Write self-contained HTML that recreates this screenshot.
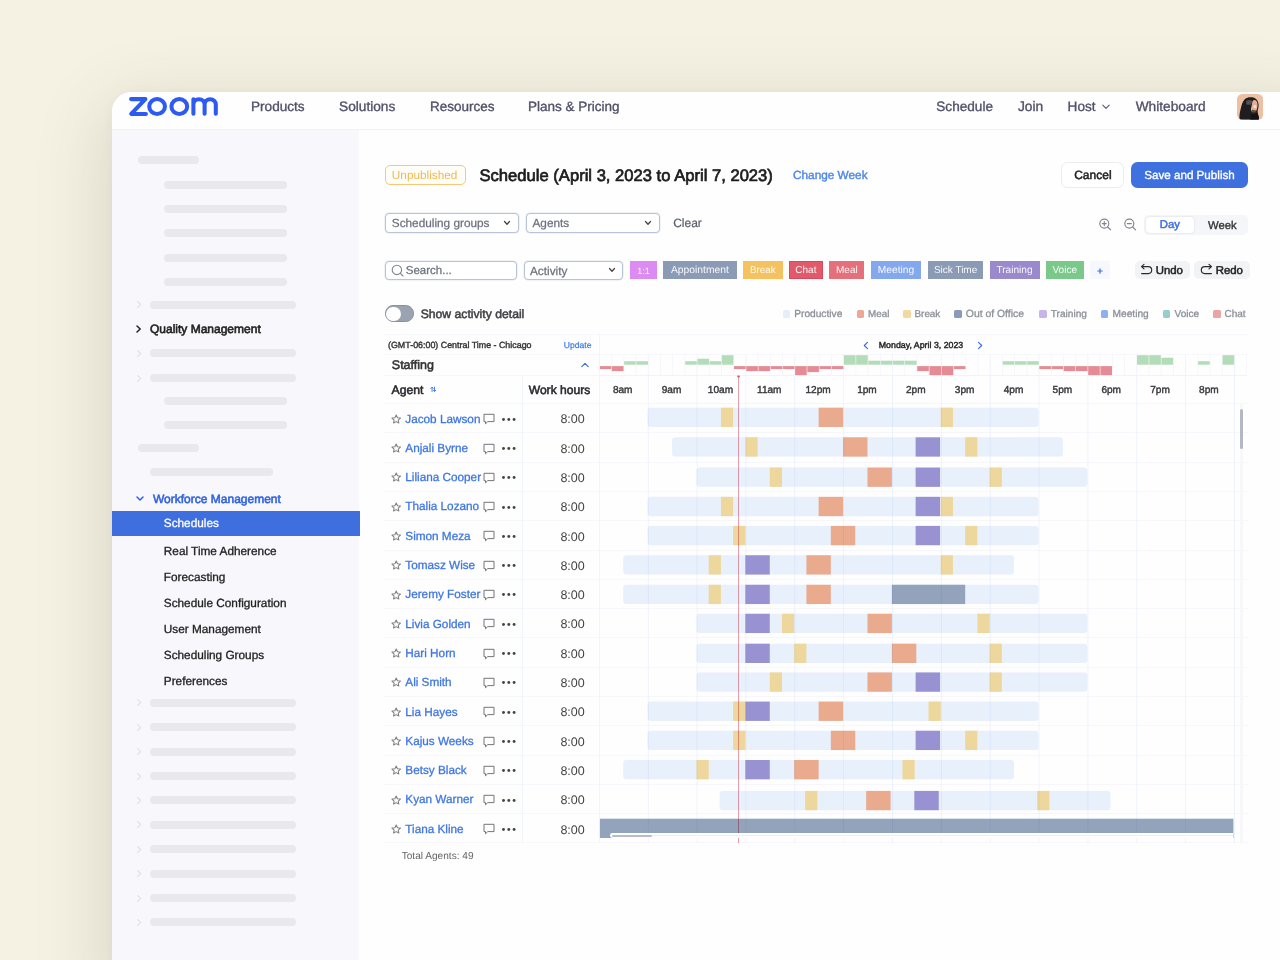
<!DOCTYPE html>
<html><head><meta charset="utf-8"><title>Schedule</title><style>
*{box-sizing:border-box;margin:0;padding:0}
html,body{width:1280px;height:960px;overflow:hidden}
body{background:#f5f2e3;font-family:"Liberation Sans",sans-serif;position:relative}
.b,.t,svg.i{position:absolute}
.t{white-space:nowrap;text-rendering:geometricPrecision}
</style></head><body>
<div class="b" style="left:112.00px;top:92.00px;width:1200.00px;height:900.00px;background:#fefefe;border-radius:20px 0 0 0;box-shadow:0 20px 70px 8px rgba(70,68,60,.15),0 2px 12px rgba(70,68,60,.04);"></div>
<div class="b" style="left:112.00px;top:129.50px;width:247.00px;height:840.00px;background:#f7f7fc;"></div>
<div class="b" style="left:112.00px;top:92.00px;width:1200.00px;height:37.50px;background:#fefefe;border-radius:20px 0 0 0;border-bottom:1px solid #f0f1f6;"></div>
<svg class="i" style="left:126px;top:94px" width="96" height="26" viewBox="126 94 96 26" fill="none" stroke="#2d5af1" stroke-width="4.05" stroke-linecap="round" stroke-linejoin="round">
<path d="M131.1 99.1H145.4L131.2 113.9H145.9"/>
<ellipse cx="157.1" cy="106.5" rx="7.85" ry="7.45"/>
<ellipse cx="179.3" cy="106.5" rx="7.85" ry="7.45"/>
<path d="M193.4 113.8V99.3M193.4 104.6A5.6 5.4 0 0 1 204.6 104.6V113.8M204.6 104.6A5.6 5.4 0 0 1 215.8 104.6V113.8"/>
</svg>
<div class="t" style="left:251.00px;top:98.90px;height:16px;line-height:16px;font-size:13.6px;color:#50516a;-webkit-text-stroke:0.35px #50516a;">Products</div>
<div class="t" style="left:339.00px;top:98.90px;height:16px;line-height:16px;font-size:13.7px;color:#50516a;-webkit-text-stroke:0.35px #50516a;">Solutions</div>
<div class="t" style="left:430.00px;top:98.90px;height:16px;line-height:16px;font-size:13.5px;color:#50516a;-webkit-text-stroke:0.35px #50516a;">Resources</div>
<div class="t" style="left:528.00px;top:98.90px;height:16px;line-height:16px;font-size:13.5px;color:#50516a;-webkit-text-stroke:0.35px #50516a;">Plans &amp; Pricing</div>
<div class="t" style="left:936.30px;top:98.90px;height:16px;line-height:16px;font-size:13.6px;color:#50516a;-webkit-text-stroke:0.35px #50516a;">Schedule</div>
<div class="t" style="left:1017.90px;top:98.90px;height:16px;line-height:16px;font-size:13.8px;color:#50516a;-webkit-text-stroke:0.35px #50516a;">Join</div>
<div class="t" style="left:1067.60px;top:98.90px;height:16px;line-height:16px;font-size:13.6px;color:#50516a;-webkit-text-stroke:0.35px #50516a;">Host</div>
<div class="t" style="left:1135.70px;top:98.90px;height:16px;line-height:16px;font-size:13.7px;color:#50516a;-webkit-text-stroke:0.35px #50516a;">Whiteboard</div>
<svg class="i" style="left:1101px;top:103px" width="10" height="8" viewBox="0 0 10 8" fill="none" stroke="#5a5a70" stroke-width="1.1" stroke-linecap="round" stroke-linejoin="round"><path d="M1.8 2.2L5 5.4L8.2 2.2"/></svg>
<svg class="i" style="left:1236.9px;top:94px" width="26.2" height="25.8" viewBox="0 0 26.2 25.8">
<defs><clipPath id="av"><rect x="0" y="0" width="26.2" height="25.8" rx="5.5"/></clipPath></defs>
<g clip-path="url(#av)"><rect width="26.2" height="25.8" fill="#edbfa3"/>
<path d="M3.2 25.8C1.8 24 2.6 19 3.8 14.5C4.6 10.8 5.6 7.2 8 5C10 3.2 13.5 2.7 16.5 3.6C19.5 4.5 21.2 7 21.6 10.5C21.9 13.5 20.4 16 20.6 18.5C20.8 21 22.4 22.8 21.8 25.8Z" fill="#1f1d1f"/>
<path d="M16.4 6.2C18.6 5.6 20.3 7.4 20.5 10C20.7 12.6 20.3 15.5 19 17.4C17.8 19 15.8 18.6 14.6 17.4C13.6 16.2 14 14 14.6 12C15.2 10 15 7 16.4 6.2Z" fill="#e3b096"/>
<path d="M17 11.2C18.4 10.6 19.6 11.4 19.4 12.8C19.2 14 17.8 14.4 16.9 13.8C16.2 13.2 16.2 11.7 17 11.2Z" fill="#f4e3da"/>
<path d="M15.2 15.6C16.6 16.4 18.4 16.6 19.6 16L20.6 18.5C19 20 16 20.5 14 19Z" fill="#3a2c2a" opacity=".75"/>
<path d="M9.6 6.8C11.2 6.2 14 6.2 15 6.8C15.2 8.4 14.6 10 13.6 10.8C12 11 10.2 10.8 9.2 10.2C9 9 9.2 7.8 9.6 6.8Z" fill="#5b5a5e" opacity=".85"/>
<path d="M14.2 19.2C16 20.6 18.4 20.2 20.6 18.6C20.8 21 22.4 22.8 21.8 25.8H13.2Z" fill="#151316"/>
</g></svg>
<div class="b" style="left:137.50px;top:156.00px;width:61.50px;height:8.00px;background:#e9e8ed;border-radius:4px;"></div>
<div class="b" style="left:163.80px;top:180.50px;width:123.00px;height:8.00px;background:#e9e8ed;border-radius:4px;"></div>
<div class="b" style="left:163.80px;top:205.00px;width:123.00px;height:8.00px;background:#e9e8ed;border-radius:4px;"></div>
<div class="b" style="left:163.80px;top:229.30px;width:123.00px;height:8.00px;background:#e9e8ed;border-radius:4px;"></div>
<div class="b" style="left:163.80px;top:253.70px;width:123.00px;height:8.00px;background:#e9e8ed;border-radius:4px;"></div>
<div class="b" style="left:163.80px;top:278.20px;width:123.00px;height:8.00px;background:#e9e8ed;border-radius:4px;"></div>
<div class="b" style="left:150.00px;top:300.80px;width:146.30px;height:8.00px;background:#e9e8ed;border-radius:4px;"></div>
<svg class="i" style="left:135px;top:300.30px" width="8" height="9" viewBox="0 0 8 9" fill="none" stroke="#e4e2e8" stroke-width="1.1" stroke-linecap="round" stroke-linejoin="round"><path d="M2.5 1.5L5.8 4.5L2.5 7.5"/></svg>
<div class="b" style="left:150.00px;top:349.30px;width:146.30px;height:8.00px;background:#e9e8ed;border-radius:4px;"></div>
<svg class="i" style="left:135px;top:348.80px" width="8" height="9" viewBox="0 0 8 9" fill="none" stroke="#e4e2e8" stroke-width="1.1" stroke-linecap="round" stroke-linejoin="round"><path d="M2.5 1.5L5.8 4.5L2.5 7.5"/></svg>
<div class="b" style="left:150.00px;top:374.00px;width:146.30px;height:8.00px;background:#e9e8ed;border-radius:4px;"></div>
<svg class="i" style="left:135px;top:373.50px" width="8" height="9" viewBox="0 0 8 9" fill="none" stroke="#e4e2e8" stroke-width="1.1" stroke-linecap="round" stroke-linejoin="round"><path d="M2.5 1.5L5.8 4.5L2.5 7.5"/></svg>
<div class="b" style="left:163.80px;top:396.80px;width:123.00px;height:8.00px;background:#e9e8ed;border-radius:4px;"></div>
<div class="b" style="left:163.80px;top:421.20px;width:123.00px;height:8.00px;background:#e9e8ed;border-radius:4px;"></div>
<div class="b" style="left:137.50px;top:443.60px;width:61.50px;height:8.00px;background:#e9e8ed;border-radius:4px;"></div>
<div class="b" style="left:150.00px;top:468.00px;width:122.50px;height:8.00px;background:#e9e8ed;border-radius:4px;"></div>
<div class="b" style="left:150.00px;top:698.80px;width:146.30px;height:8.00px;background:#e9e8ed;border-radius:4px;"></div>
<svg class="i" style="left:135px;top:698.30px" width="8" height="9" viewBox="0 0 8 9" fill="none" stroke="#e4e2e8" stroke-width="1.1" stroke-linecap="round" stroke-linejoin="round"><path d="M2.5 1.5L5.8 4.5L2.5 7.5"/></svg>
<div class="b" style="left:150.00px;top:723.20px;width:146.30px;height:8.00px;background:#e9e8ed;border-radius:4px;"></div>
<svg class="i" style="left:135px;top:722.70px" width="8" height="9" viewBox="0 0 8 9" fill="none" stroke="#e4e2e8" stroke-width="1.1" stroke-linecap="round" stroke-linejoin="round"><path d="M2.5 1.5L5.8 4.5L2.5 7.5"/></svg>
<div class="b" style="left:150.00px;top:747.60px;width:146.30px;height:8.00px;background:#e9e8ed;border-radius:4px;"></div>
<svg class="i" style="left:135px;top:747.10px" width="8" height="9" viewBox="0 0 8 9" fill="none" stroke="#e4e2e8" stroke-width="1.1" stroke-linecap="round" stroke-linejoin="round"><path d="M2.5 1.5L5.8 4.5L2.5 7.5"/></svg>
<div class="b" style="left:150.00px;top:772.00px;width:146.30px;height:8.00px;background:#e9e8ed;border-radius:4px;"></div>
<svg class="i" style="left:135px;top:771.50px" width="8" height="9" viewBox="0 0 8 9" fill="none" stroke="#e4e2e8" stroke-width="1.1" stroke-linecap="round" stroke-linejoin="round"><path d="M2.5 1.5L5.8 4.5L2.5 7.5"/></svg>
<div class="b" style="left:150.00px;top:796.40px;width:146.30px;height:8.00px;background:#e9e8ed;border-radius:4px;"></div>
<svg class="i" style="left:135px;top:795.90px" width="8" height="9" viewBox="0 0 8 9" fill="none" stroke="#e4e2e8" stroke-width="1.1" stroke-linecap="round" stroke-linejoin="round"><path d="M2.5 1.5L5.8 4.5L2.5 7.5"/></svg>
<div class="b" style="left:150.00px;top:820.80px;width:146.30px;height:8.00px;background:#e9e8ed;border-radius:4px;"></div>
<svg class="i" style="left:135px;top:820.30px" width="8" height="9" viewBox="0 0 8 9" fill="none" stroke="#e4e2e8" stroke-width="1.1" stroke-linecap="round" stroke-linejoin="round"><path d="M2.5 1.5L5.8 4.5L2.5 7.5"/></svg>
<div class="b" style="left:150.00px;top:845.20px;width:146.30px;height:8.00px;background:#e9e8ed;border-radius:4px;"></div>
<svg class="i" style="left:135px;top:844.70px" width="8" height="9" viewBox="0 0 8 9" fill="none" stroke="#e4e2e8" stroke-width="1.1" stroke-linecap="round" stroke-linejoin="round"><path d="M2.5 1.5L5.8 4.5L2.5 7.5"/></svg>
<div class="b" style="left:150.00px;top:869.60px;width:146.30px;height:8.00px;background:#e9e8ed;border-radius:4px;"></div>
<svg class="i" style="left:135px;top:869.10px" width="8" height="9" viewBox="0 0 8 9" fill="none" stroke="#e4e2e8" stroke-width="1.1" stroke-linecap="round" stroke-linejoin="round"><path d="M2.5 1.5L5.8 4.5L2.5 7.5"/></svg>
<div class="b" style="left:150.00px;top:894.00px;width:146.30px;height:8.00px;background:#e9e8ed;border-radius:4px;"></div>
<svg class="i" style="left:135px;top:893.50px" width="8" height="9" viewBox="0 0 8 9" fill="none" stroke="#e4e2e8" stroke-width="1.1" stroke-linecap="round" stroke-linejoin="round"><path d="M2.5 1.5L5.8 4.5L2.5 7.5"/></svg>
<div class="b" style="left:150.00px;top:918.40px;width:146.30px;height:8.00px;background:#e9e8ed;border-radius:4px;"></div>
<svg class="i" style="left:135px;top:917.90px" width="8" height="9" viewBox="0 0 8 9" fill="none" stroke="#e4e2e8" stroke-width="1.1" stroke-linecap="round" stroke-linejoin="round"><path d="M2.5 1.5L5.8 4.5L2.5 7.5"/></svg>
<svg class="i" style="left:134px;top:324px" width="9" height="10" viewBox="0 0 9 10" fill="none" stroke="#222" stroke-width="1.5" stroke-linecap="round" stroke-linejoin="round"><path d="M3 2L6.2 5L3 8"/></svg>
<div class="t" style="left:150.00px;top:321.30px;height:16px;line-height:16px;font-size:12.0px;color:#222;-webkit-text-stroke:0.6px #222;">Quality Management</div>
<svg class="i" style="left:135px;top:493.5px" width="10" height="9" viewBox="0 0 10 9" fill="none" stroke="#2f62e0" stroke-width="1.5" stroke-linecap="round" stroke-linejoin="round"><path d="M2 3L5 6L8 3"/></svg>
<div class="t" style="left:153.00px;top:490.60px;height:16px;line-height:16px;font-size:12.0px;color:#2f62e0;-webkit-text-stroke:0.55px #2f62e0;">Workforce Management</div>
<div class="b" style="left:112.00px;top:511.30px;width:247.70px;height:24.30px;background:#3f6fde;"></div>
<div class="t" style="left:163.80px;top:515.30px;height:16px;line-height:16px;font-size:11.8px;color:#fff;-webkit-text-stroke:0.3px #fff;">Schedules</div>
<div class="t" style="left:163.80px;top:543.20px;height:16px;line-height:16px;font-size:11.8px;color:#222;-webkit-text-stroke:0.3px #222;">Real Time Adherence</div>
<div class="t" style="left:163.80px;top:569.00px;height:16px;line-height:16px;font-size:11.8px;color:#222;-webkit-text-stroke:0.3px #222;">Forecasting</div>
<div class="t" style="left:163.80px;top:595.20px;height:16px;line-height:16px;font-size:11.8px;color:#222;-webkit-text-stroke:0.3px #222;">Schedule Configuration</div>
<div class="t" style="left:163.80px;top:621.20px;height:16px;line-height:16px;font-size:11.8px;color:#222;-webkit-text-stroke:0.3px #222;">User Management</div>
<div class="t" style="left:163.80px;top:647.00px;height:16px;line-height:16px;font-size:11.8px;color:#222;-webkit-text-stroke:0.3px #222;">Scheduling Groups</div>
<div class="t" style="left:163.80px;top:673.20px;height:16px;line-height:16px;font-size:11.8px;color:#222;-webkit-text-stroke:0.3px #222;">Preferences</div>
<div class="b" style="left:385.00px;top:165.00px;width:81.00px;height:20.00px;background:#fffdf8;border:1px solid #f6c979;border-radius:5px;"></div>
<div class="t" style="left:391.80px;top:167.00px;height:16px;line-height:16px;font-size:11.8px;color:#f2b84e;">Unpublished</div>
<div class="t" style="left:479.50px;top:164.70px;height:22px;line-height:22px;font-size:16.6px;color:#1c1c1e;-webkit-text-stroke:0.7px #1c1c1e;">Schedule (April 3, 2023 to April 7, 2023)</div>
<div class="t" style="left:793.00px;top:167.30px;height:16px;line-height:16px;font-size:11.8px;color:#4f86ea;-webkit-text-stroke:0.4px #4f86ea;">Change Week</div>
<div class="b" style="left:1061.20px;top:162.00px;width:63.00px;height:25.50px;background:#fff;border:1px solid #e9ecf4;border-radius:6.5px;"></div>
<div class="t" style="left:1074.20px;top:167.00px;height:16px;line-height:16px;font-size:12.0px;color:#222;-webkit-text-stroke:0.5px #222;">Cancel</div>
<div class="b" style="left:1131.20px;top:162.00px;width:116.80px;height:25.50px;background:#3e70e0;border-radius:6.5px;"></div>
<div class="t" style="left:1144.20px;top:167.60px;height:16px;line-height:16px;font-size:11.65px;color:#fff;-webkit-text-stroke:0.35px #fff;">Save and Publish</div>
<div class="b" style="left:385.30px;top:213.00px;width:133.60px;height:19.60px;background:#fff;border:1px solid #b9c3d6;border-radius:4px;box-shadow:0 0 0 .5px #dfe5f0;"></div>
<div class="t" style="left:391.80px;top:215.20px;height:16px;line-height:16px;font-size:11.8px;color:#6b727e;-webkit-text-stroke:0.25px #6b727e;">Scheduling groups</div>
<svg class="i" style="left:503.20px;top:220.00px" width="8" height="6" viewBox="0 0 8 6" fill="none" stroke="#444" stroke-width="1.3" stroke-linecap="round" stroke-linejoin="round"><path d="M1.5 1.5L4 4.2L6.5 1.5"/></svg>
<div class="b" style="left:525.60px;top:213.00px;width:134.00px;height:19.60px;background:#fff;border:1px solid #b9c3d6;border-radius:4px;box-shadow:0 0 0 .5px #dfe5f0;"></div>
<div class="t" style="left:532.50px;top:215.20px;height:16px;line-height:16px;font-size:11.8px;color:#6b727e;-webkit-text-stroke:0.25px #6b727e;">Agents</div>
<svg class="i" style="left:643.80px;top:220.00px" width="8" height="6" viewBox="0 0 8 6" fill="none" stroke="#444" stroke-width="1.3" stroke-linecap="round" stroke-linejoin="round"><path d="M1.5 1.5L4 4.2L6.5 1.5"/></svg>
<div class="t" style="left:673.20px;top:214.80px;height:16px;line-height:16px;font-size:12.0px;color:#5a5f6a;-webkit-text-stroke:0.2px #5a5f6a;">Clear</div>
<svg class="i" style="left:1098.5px;top:218.3px" width="13" height="13" viewBox="0 0 13 13" fill="none" stroke="#80858f" stroke-width="1.15" stroke-linecap="round"><circle cx="5.3" cy="5.6" r="4.5"/><path d="M8.7 9L11.6 11.9"/><path d="M3.3 5.6H7.3M5.3 3.6V7.6"/></svg>
<svg class="i" style="left:1124.3px;top:218.3px" width="13" height="13" viewBox="0 0 13 13" fill="none" stroke="#80858f" stroke-width="1.15" stroke-linecap="round"><circle cx="5.3" cy="5.6" r="4.5"/><path d="M8.7 9L11.6 11.9"/><path d="M3.3 5.6H7.3"/></svg>
<div class="b" style="left:1143.70px;top:215.00px;width:104.00px;height:19.60px;background:#f5f6f9;border-radius:5px;"></div>
<div class="b" style="left:1145.50px;top:216.70px;width:48.80px;height:16.30px;background:#fff;border-radius:4px;box-shadow:0 0 2px rgba(40,60,100,.18);"></div>
<div class="t" style="left:1145.50px;top:217.10px;height:16px;line-height:16px;font-size:11.3px;color:#3d6fe0;-webkit-text-stroke:0.5px #3d6fe0;width:48.80px;text-align:center;">Day</div>
<div class="t" style="left:1208.00px;top:217.60px;height:16px;line-height:16px;font-size:11.3px;color:#333;-webkit-text-stroke:0.35px #333;">Week</div>
<div class="b" style="left:385.30px;top:260.50px;width:131.50px;height:19.00px;background:#fff;border:1px solid #b9c3d6;border-radius:4px;box-shadow:0 0 0 .5px #dfe5f0;"></div>
<svg class="i" style="left:390.5px;top:264px" width="13" height="13" viewBox="0 0 13 13" fill="none" stroke="#80858f" stroke-width="1.1" stroke-linecap="round"><circle cx="5.9" cy="5.9" r="4.7"/><path d="M9.4 9.4L12 12"/></svg>
<div class="t" style="left:405.80px;top:263.00px;height:16px;line-height:16px;font-size:11.5px;color:#6b727e;-webkit-text-stroke:0.25px #6b727e;">Search...</div>
<div class="b" style="left:523.70px;top:260.50px;width:99.60px;height:19.00px;background:#fff;border:1px solid #b9c3d6;border-radius:4px;box-shadow:0 0 0 .5px #dfe5f0;"></div>
<div class="t" style="left:530.00px;top:262.60px;height:16px;line-height:16px;font-size:11.8px;color:#6b727e;-webkit-text-stroke:0.25px #6b727e;">Activity</div>
<svg class="i" style="left:607.50px;top:267.30px" width="8" height="6" viewBox="0 0 8 6" fill="none" stroke="#444" stroke-width="1.3" stroke-linecap="round" stroke-linejoin="round"><path d="M1.5 1.5L4 4.2L6.5 1.5"/></svg>
<div class="b" style="left:630.00px;top:261.30px;width:26.80px;height:17.80px;background:#db8bf1;"></div>
<div class="t" style="left:630.00px;top:263.30px;height:16px;line-height:16px;font-size:9px;color:#fff;width:26.80px;text-align:center;opacity:.92;">1:1</div>
<div class="b" style="left:663.00px;top:261.30px;width:73.80px;height:17.80px;background:#8c9bb5;"></div>
<div class="t" style="left:663.00px;top:263.30px;height:16px;line-height:16px;font-size:10.3px;color:#fff;width:73.80px;text-align:center;opacity:.92;">Appointment</div>
<div class="b" style="left:743.00px;top:261.30px;width:39.50px;height:17.80px;background:#f5c25f;"></div>
<div class="t" style="left:743.00px;top:263.30px;height:16px;line-height:16px;font-size:9.8px;color:#fff;width:39.50px;text-align:center;opacity:.92;">Break</div>
<div class="b" style="left:788.80px;top:261.30px;width:34.20px;height:17.80px;background:#e15a6c;border:1px solid #d9485d;"></div>
<div class="t" style="left:788.80px;top:263.30px;height:16px;line-height:16px;font-size:10px;color:#fff;width:34.20px;text-align:center;opacity:.92;">Chat</div>
<div class="b" style="left:829.20px;top:261.30px;width:35.30px;height:17.80px;background:#e56f7b;"></div>
<div class="t" style="left:829.20px;top:263.30px;height:16px;line-height:16px;font-size:10px;color:#fff;width:35.30px;text-align:center;opacity:.92;">Meal</div>
<div class="b" style="left:870.80px;top:261.30px;width:50.40px;height:17.80px;background:#83a8ee;"></div>
<div class="t" style="left:870.80px;top:263.30px;height:16px;line-height:16px;font-size:10.2px;color:#fff;width:50.40px;text-align:center;opacity:.92;">Meeting</div>
<div class="b" style="left:928.00px;top:261.30px;width:55.20px;height:17.80px;background:#8c9bb5;"></div>
<div class="t" style="left:928.00px;top:263.30px;height:16px;line-height:16px;font-size:10px;color:#fff;width:55.20px;text-align:center;opacity:.92;">Sick Time</div>
<div class="b" style="left:989.50px;top:261.30px;width:50.00px;height:17.80px;background:#9b89cd;"></div>
<div class="t" style="left:989.50px;top:263.30px;height:16px;line-height:16px;font-size:10.1px;color:#fff;width:50.00px;text-align:center;opacity:.92;">Training</div>
<div class="b" style="left:1045.80px;top:261.30px;width:38.00px;height:17.80px;background:#7ac98b;"></div>
<div class="t" style="left:1045.80px;top:263.30px;height:16px;line-height:16px;font-size:10.1px;color:#fff;width:38.00px;text-align:center;opacity:.92;">Voice</div>
<div class="b" style="left:1089.50px;top:261.30px;width:20.50px;height:17.80px;background:#f6f8fd;"></div>
<svg class="i" style="left:1096px;top:266.5px" width="8" height="8" viewBox="0 0 8 8" stroke="#3d6fe0" stroke-width="1.2" stroke-linecap="round"><path d="M4 1.8V6.2M1.8 4H6.2"/></svg>
<div class="b" style="left:1134.50px;top:260.70px;width:55.50px;height:18.60px;background:#f1f3f5;border-radius:5px;"></div>
<svg class="i" style="left:1140px;top:263px" width="14" height="13" viewBox="0 0 14 13" fill="none" stroke="#2a2a2e" stroke-width="1.15" stroke-linecap="round" stroke-linejoin="round"><path d="M4 1.3L1.5 3.6L4 5.9M1.7 3.6H8.2A3.5 3.5 0 0 1 8.2 10.6H1.6"/></svg>
<div class="t" style="left:1155.70px;top:263.00px;height:16px;line-height:16px;font-size:11.4px;color:#222;-webkit-text-stroke:0.5px #222;">Undo</div>
<div class="b" style="left:1194.20px;top:260.70px;width:56.30px;height:18.60px;background:#f1f3f5;border-radius:5px;"></div>
<svg class="i" style="left:1199.5px;top:263px" width="14" height="13" viewBox="0 0 14 13" fill="none" stroke="#2a2a2e" stroke-width="1.15" stroke-linecap="round" stroke-linejoin="round"><path d="M9 1.3L11.5 3.6L9 5.9M11.3 3.6H4.8A3.5 3.5 0 0 0 4.8 10.6H11.4"/></svg>
<div class="t" style="left:1215.70px;top:263.00px;height:16px;line-height:16px;font-size:11.4px;color:#222;-webkit-text-stroke:0.5px #222;">Redo</div>
<div class="b" style="left:385.30px;top:305.40px;width:28.90px;height:16.40px;background:#9aa3b0;border-radius:8.2px;border:1px solid #8b919c;"></div>
<div class="b" style="left:386.40px;top:306.50px;width:14.20px;height:14.20px;background:#fefefe;border-radius:50%;"></div>
<div class="t" style="left:420.70px;top:305.90px;height:16px;line-height:16px;font-size:12.2px;color:#404044;-webkit-text-stroke:0.5px #404044;">Show activity detail</div>
<div class="b" style="left:782.80px;top:310.10px;width:7.70px;height:7.70px;background:#e6eefb;border-radius:1.5px;"></div>
<div class="t" style="left:794.20px;top:307.00px;height:16px;line-height:16px;font-size:10.2px;color:#8b9099;-webkit-text-stroke:0.3px #8b9099;">Productive</div>
<div class="b" style="left:856.60px;top:310.10px;width:7.70px;height:7.70px;background:#eea795;border-radius:1.5px;"></div>
<div class="t" style="left:868.00px;top:307.00px;height:16px;line-height:16px;font-size:9.9px;color:#8b9099;-webkit-text-stroke:0.3px #8b9099;">Meal</div>
<div class="b" style="left:903.00px;top:310.10px;width:7.70px;height:7.70px;background:#f3d9a0;border-radius:1.5px;"></div>
<div class="t" style="left:914.50px;top:307.00px;height:16px;line-height:16px;font-size:9.9px;color:#8b9099;-webkit-text-stroke:0.3px #8b9099;">Break</div>
<div class="b" style="left:954.00px;top:310.10px;width:7.70px;height:7.70px;background:#8a9bb9;border-radius:1.5px;"></div>
<div class="t" style="left:965.80px;top:307.00px;height:16px;line-height:16px;font-size:10.4px;color:#8b9099;-webkit-text-stroke:0.3px #8b9099;">Out of Office</div>
<div class="b" style="left:1039.00px;top:310.10px;width:7.70px;height:7.70px;background:#c6b5e9;border-radius:1.5px;"></div>
<div class="t" style="left:1050.80px;top:307.00px;height:16px;line-height:16px;font-size:10.1px;color:#8b9099;-webkit-text-stroke:0.3px #8b9099;">Training</div>
<div class="b" style="left:1100.60px;top:310.10px;width:7.70px;height:7.70px;background:#8db0f1;border-radius:1.5px;"></div>
<div class="t" style="left:1112.50px;top:307.00px;height:16px;line-height:16px;font-size:10.2px;color:#8b9099;-webkit-text-stroke:0.3px #8b9099;">Meeting</div>
<div class="b" style="left:1162.80px;top:310.10px;width:7.70px;height:7.70px;background:#97cfc8;border-radius:1.5px;"></div>
<div class="t" style="left:1174.50px;top:307.00px;height:16px;line-height:16px;font-size:10.1px;color:#8b9099;-webkit-text-stroke:0.3px #8b9099;">Voice</div>
<div class="b" style="left:1213.00px;top:310.10px;width:7.70px;height:7.70px;background:#eaa4a4;border-radius:1.5px;"></div>
<div class="t" style="left:1224.50px;top:307.00px;height:16px;line-height:16px;font-size:10px;color:#8b9099;-webkit-text-stroke:0.3px #8b9099;">Chat</div>
<div class="b" style="left:385.00px;top:334.00px;width:862.50px;height:1.00px;background:#f7f7fb;"></div>
<div class="t" style="left:388.00px;top:339.00px;height:12px;line-height:12px;font-size:8.9px;color:#333;-webkit-text-stroke:0.38px #333;">(GMT-06:00) Central Time - Chicago</div>
<div class="t" style="left:563.80px;top:339.00px;height:12px;line-height:12px;font-size:8.6px;color:#3d7be8;-webkit-text-stroke:0.2px #3d7be8;">Update</div>
<svg class="i" style="left:861.5px;top:340.5px" width="8" height="9" viewBox="0 0 8 9" fill="none" stroke="#3d6fe0" stroke-width="1.2" stroke-linecap="round" stroke-linejoin="round"><path d="M5.5 1.3L2.3 4.5L5.5 7.7"/></svg>
<div class="t" style="left:878.80px;top:339.00px;height:12px;line-height:12px;font-size:8.8px;color:#222;-webkit-text-stroke:0.4px #222;">Monday, April 3, 2023</div>
<svg class="i" style="left:975.5px;top:340.5px" width="8" height="9" viewBox="0 0 8 9" fill="none" stroke="#3d6fe0" stroke-width="1.2" stroke-linecap="round" stroke-linejoin="round"><path d="M2.5 1.3L5.7 4.5L2.5 7.7"/></svg>
<div class="b" style="left:385.00px;top:354.00px;width:214.50px;height:1.00px;background:#f7f7fb;"></div>
<div class="t" style="left:391.80px;top:356.50px;height:16px;line-height:16px;font-size:12.5px;color:#333;-webkit-text-stroke:0.55px #333;">Staffing</div>
<svg class="i" style="left:580px;top:361px" width="10" height="8" viewBox="0 0 10 8" fill="none" stroke="#3d6fe0" stroke-width="1.2" stroke-linecap="round" stroke-linejoin="round"><path d="M1.8 5.6L5 2.4L8.2 5.6"/></svg>
<div class="b" style="left:385.00px;top:375.30px;width:214.50px;height:1.00px;background:#f7f7fb;"></div>
<div class="t" style="left:391.60px;top:381.60px;height:16px;line-height:16px;font-size:12.2px;color:#2a2a2e;-webkit-text-stroke:0.55px #2a2a2e;">Agent</div>
<svg class="i" style="left:430.3px;top:386.2px" width="6.6" height="6.6" viewBox="0 0 9 9" fill="none" stroke="#3d7be8" stroke-width="1.3" stroke-linecap="round" stroke-linejoin="round"><path d="M2.8 7.5V1.8M1.2 3.2L2.8 1.5L4.4 3.2M6.2 1.5V7.2M4.6 5.8L6.2 7.5L7.8 5.8"/></svg>
<div class="t" style="left:528.70px;top:381.60px;height:16px;line-height:16px;font-size:12.1px;color:#2a2a2e;-webkit-text-stroke:0.55px #2a2a2e;">Work hours</div>
<div class="t" style="left:598.30px;top:382.80px;height:16px;line-height:16px;font-size:10.1px;color:#3a3a3e;-webkit-text-stroke:0.42px #3a3a3e;width:48.85px;text-align:center;">8am</div>
<div class="t" style="left:647.15px;top:382.80px;height:16px;line-height:16px;font-size:10.1px;color:#3a3a3e;-webkit-text-stroke:0.42px #3a3a3e;width:48.85px;text-align:center;">9am</div>
<div class="t" style="left:696.00px;top:382.80px;height:16px;line-height:16px;font-size:10.1px;color:#3a3a3e;-webkit-text-stroke:0.42px #3a3a3e;width:48.85px;text-align:center;">10am</div>
<div class="t" style="left:744.85px;top:382.80px;height:16px;line-height:16px;font-size:10.1px;color:#3a3a3e;-webkit-text-stroke:0.42px #3a3a3e;width:48.85px;text-align:center;">11am</div>
<div class="t" style="left:793.70px;top:382.80px;height:16px;line-height:16px;font-size:10.1px;color:#3a3a3e;-webkit-text-stroke:0.42px #3a3a3e;width:48.85px;text-align:center;">12pm</div>
<div class="t" style="left:842.55px;top:382.80px;height:16px;line-height:16px;font-size:10.1px;color:#3a3a3e;-webkit-text-stroke:0.42px #3a3a3e;width:48.85px;text-align:center;">1pm</div>
<div class="t" style="left:891.40px;top:382.80px;height:16px;line-height:16px;font-size:10.1px;color:#3a3a3e;-webkit-text-stroke:0.42px #3a3a3e;width:48.85px;text-align:center;">2pm</div>
<div class="t" style="left:940.25px;top:382.80px;height:16px;line-height:16px;font-size:10.1px;color:#3a3a3e;-webkit-text-stroke:0.42px #3a3a3e;width:48.85px;text-align:center;">3pm</div>
<div class="t" style="left:989.10px;top:382.80px;height:16px;line-height:16px;font-size:10.1px;color:#3a3a3e;-webkit-text-stroke:0.42px #3a3a3e;width:48.85px;text-align:center;">4pm</div>
<div class="t" style="left:1037.95px;top:382.80px;height:16px;line-height:16px;font-size:10.1px;color:#3a3a3e;-webkit-text-stroke:0.42px #3a3a3e;width:48.85px;text-align:center;">5pm</div>
<div class="t" style="left:1086.80px;top:382.80px;height:16px;line-height:16px;font-size:10.1px;color:#3a3a3e;-webkit-text-stroke:0.42px #3a3a3e;width:48.85px;text-align:center;">6pm</div>
<div class="t" style="left:1135.65px;top:382.80px;height:16px;line-height:16px;font-size:10.1px;color:#3a3a3e;-webkit-text-stroke:0.42px #3a3a3e;width:48.85px;text-align:center;">7pm</div>
<div class="t" style="left:1184.50px;top:382.80px;height:16px;line-height:16px;font-size:10.1px;color:#3a3a3e;-webkit-text-stroke:0.42px #3a3a3e;width:48.85px;text-align:center;">8pm</div>
<div class="b" style="left:385.00px;top:403.00px;width:862.50px;height:1.00px;background:#f7f7fb;"></div>
<div class="b" style="left:385.00px;top:432.30px;width:862.50px;height:1.00px;background:#f7f7fb;"></div>
<svg class="i" style="left:391.2px;top:413.75px" width="10.4" height="10.4" viewBox="0 0 10 10" fill="none" stroke="#808084" stroke-width="1" stroke-linejoin="round"><path d="M5 0.9L6.25 3.55L9.1 3.9L7 5.85L7.55 8.7L5 7.3L2.45 8.7L3 5.85L0.9 3.9L3.75 3.55Z"/></svg>
<div class="t" style="left:405.30px;top:411.55px;height:16px;line-height:16px;font-size:11.75px;color:#3f76e2;-webkit-text-stroke:0.3px #3f76e2;">Jacob Lawson</div>
<svg class="i" style="left:483.3px;top:413.25px" width="12" height="12" viewBox="0 0 12 12" fill="none" stroke="#74747a" stroke-width="1" stroke-linejoin="round"><path d="M1 1.3H11V8.6H4.8L2.5 10.8V8.6H1Z"/></svg>
<svg class="i" style="left:501px;top:416.65px" width="16" height="5" viewBox="0 0 16 5" fill="#444"><circle cx="2.5" cy="2.5" r="1.45"/><circle cx="7.8" cy="2.5" r="1.45"/><circle cx="13.1" cy="2.5" r="1.45"/></svg>
<div class="t" style="left:560.40px;top:411.35px;height:16px;line-height:16px;font-size:12.5px;color:#444;">8:00</div>
<div class="b" style="left:385.00px;top:461.60px;width:862.50px;height:1.00px;background:#f7f7fb;"></div>
<svg class="i" style="left:391.2px;top:443.05px" width="10.4" height="10.4" viewBox="0 0 10 10" fill="none" stroke="#808084" stroke-width="1" stroke-linejoin="round"><path d="M5 0.9L6.25 3.55L9.1 3.9L7 5.85L7.55 8.7L5 7.3L2.45 8.7L3 5.85L0.9 3.9L3.75 3.55Z"/></svg>
<div class="t" style="left:405.30px;top:440.85px;height:16px;line-height:16px;font-size:11.75px;color:#3f76e2;-webkit-text-stroke:0.3px #3f76e2;">Anjali Byrne</div>
<svg class="i" style="left:483.3px;top:442.55px" width="12" height="12" viewBox="0 0 12 12" fill="none" stroke="#74747a" stroke-width="1" stroke-linejoin="round"><path d="M1 1.3H11V8.6H4.8L2.5 10.8V8.6H1Z"/></svg>
<svg class="i" style="left:501px;top:445.95px" width="16" height="5" viewBox="0 0 16 5" fill="#444"><circle cx="2.5" cy="2.5" r="1.45"/><circle cx="7.8" cy="2.5" r="1.45"/><circle cx="13.1" cy="2.5" r="1.45"/></svg>
<div class="t" style="left:560.40px;top:440.65px;height:16px;line-height:16px;font-size:12.5px;color:#444;">8:00</div>
<div class="b" style="left:385.00px;top:490.90px;width:862.50px;height:1.00px;background:#f7f7fb;"></div>
<svg class="i" style="left:391.2px;top:472.35px" width="10.4" height="10.4" viewBox="0 0 10 10" fill="none" stroke="#808084" stroke-width="1" stroke-linejoin="round"><path d="M5 0.9L6.25 3.55L9.1 3.9L7 5.85L7.55 8.7L5 7.3L2.45 8.7L3 5.85L0.9 3.9L3.75 3.55Z"/></svg>
<div class="t" style="left:405.30px;top:470.15px;height:16px;line-height:16px;font-size:11.75px;color:#3f76e2;-webkit-text-stroke:0.3px #3f76e2;">Liliana Cooper</div>
<svg class="i" style="left:483.3px;top:471.85px" width="12" height="12" viewBox="0 0 12 12" fill="none" stroke="#74747a" stroke-width="1" stroke-linejoin="round"><path d="M1 1.3H11V8.6H4.8L2.5 10.8V8.6H1Z"/></svg>
<svg class="i" style="left:501px;top:475.25px" width="16" height="5" viewBox="0 0 16 5" fill="#444"><circle cx="2.5" cy="2.5" r="1.45"/><circle cx="7.8" cy="2.5" r="1.45"/><circle cx="13.1" cy="2.5" r="1.45"/></svg>
<div class="t" style="left:560.40px;top:469.95px;height:16px;line-height:16px;font-size:12.5px;color:#444;">8:00</div>
<div class="b" style="left:385.00px;top:520.20px;width:862.50px;height:1.00px;background:#f7f7fb;"></div>
<svg class="i" style="left:391.2px;top:501.65px" width="10.4" height="10.4" viewBox="0 0 10 10" fill="none" stroke="#808084" stroke-width="1" stroke-linejoin="round"><path d="M5 0.9L6.25 3.55L9.1 3.9L7 5.85L7.55 8.7L5 7.3L2.45 8.7L3 5.85L0.9 3.9L3.75 3.55Z"/></svg>
<div class="t" style="left:405.30px;top:499.45px;height:16px;line-height:16px;font-size:11.75px;color:#3f76e2;-webkit-text-stroke:0.3px #3f76e2;">Thalia Lozano</div>
<svg class="i" style="left:483.3px;top:501.15px" width="12" height="12" viewBox="0 0 12 12" fill="none" stroke="#74747a" stroke-width="1" stroke-linejoin="round"><path d="M1 1.3H11V8.6H4.8L2.5 10.8V8.6H1Z"/></svg>
<svg class="i" style="left:501px;top:504.55px" width="16" height="5" viewBox="0 0 16 5" fill="#444"><circle cx="2.5" cy="2.5" r="1.45"/><circle cx="7.8" cy="2.5" r="1.45"/><circle cx="13.1" cy="2.5" r="1.45"/></svg>
<div class="t" style="left:560.40px;top:499.25px;height:16px;line-height:16px;font-size:12.5px;color:#444;">8:00</div>
<div class="b" style="left:385.00px;top:549.50px;width:862.50px;height:1.00px;background:#f7f7fb;"></div>
<svg class="i" style="left:391.2px;top:530.95px" width="10.4" height="10.4" viewBox="0 0 10 10" fill="none" stroke="#808084" stroke-width="1" stroke-linejoin="round"><path d="M5 0.9L6.25 3.55L9.1 3.9L7 5.85L7.55 8.7L5 7.3L2.45 8.7L3 5.85L0.9 3.9L3.75 3.55Z"/></svg>
<div class="t" style="left:405.30px;top:528.75px;height:16px;line-height:16px;font-size:11.75px;color:#3f76e2;-webkit-text-stroke:0.3px #3f76e2;">Simon Meza</div>
<svg class="i" style="left:483.3px;top:530.45px" width="12" height="12" viewBox="0 0 12 12" fill="none" stroke="#74747a" stroke-width="1" stroke-linejoin="round"><path d="M1 1.3H11V8.6H4.8L2.5 10.8V8.6H1Z"/></svg>
<svg class="i" style="left:501px;top:533.85px" width="16" height="5" viewBox="0 0 16 5" fill="#444"><circle cx="2.5" cy="2.5" r="1.45"/><circle cx="7.8" cy="2.5" r="1.45"/><circle cx="13.1" cy="2.5" r="1.45"/></svg>
<div class="t" style="left:560.40px;top:528.55px;height:16px;line-height:16px;font-size:12.5px;color:#444;">8:00</div>
<div class="b" style="left:385.00px;top:578.80px;width:862.50px;height:1.00px;background:#f7f7fb;"></div>
<svg class="i" style="left:391.2px;top:560.25px" width="10.4" height="10.4" viewBox="0 0 10 10" fill="none" stroke="#808084" stroke-width="1" stroke-linejoin="round"><path d="M5 0.9L6.25 3.55L9.1 3.9L7 5.85L7.55 8.7L5 7.3L2.45 8.7L3 5.85L0.9 3.9L3.75 3.55Z"/></svg>
<div class="t" style="left:405.30px;top:558.05px;height:16px;line-height:16px;font-size:11.75px;color:#3f76e2;-webkit-text-stroke:0.3px #3f76e2;">Tomasz Wise</div>
<svg class="i" style="left:483.3px;top:559.75px" width="12" height="12" viewBox="0 0 12 12" fill="none" stroke="#74747a" stroke-width="1" stroke-linejoin="round"><path d="M1 1.3H11V8.6H4.8L2.5 10.8V8.6H1Z"/></svg>
<svg class="i" style="left:501px;top:563.15px" width="16" height="5" viewBox="0 0 16 5" fill="#444"><circle cx="2.5" cy="2.5" r="1.45"/><circle cx="7.8" cy="2.5" r="1.45"/><circle cx="13.1" cy="2.5" r="1.45"/></svg>
<div class="t" style="left:560.40px;top:557.85px;height:16px;line-height:16px;font-size:12.5px;color:#444;">8:00</div>
<div class="b" style="left:385.00px;top:608.10px;width:862.50px;height:1.00px;background:#f7f7fb;"></div>
<svg class="i" style="left:391.2px;top:589.55px" width="10.4" height="10.4" viewBox="0 0 10 10" fill="none" stroke="#808084" stroke-width="1" stroke-linejoin="round"><path d="M5 0.9L6.25 3.55L9.1 3.9L7 5.85L7.55 8.7L5 7.3L2.45 8.7L3 5.85L0.9 3.9L3.75 3.55Z"/></svg>
<div class="t" style="left:405.30px;top:587.35px;height:16px;line-height:16px;font-size:11.75px;color:#3f76e2;-webkit-text-stroke:0.3px #3f76e2;">Jeremy Foster</div>
<svg class="i" style="left:483.3px;top:589.05px" width="12" height="12" viewBox="0 0 12 12" fill="none" stroke="#74747a" stroke-width="1" stroke-linejoin="round"><path d="M1 1.3H11V8.6H4.8L2.5 10.8V8.6H1Z"/></svg>
<svg class="i" style="left:501px;top:592.45px" width="16" height="5" viewBox="0 0 16 5" fill="#444"><circle cx="2.5" cy="2.5" r="1.45"/><circle cx="7.8" cy="2.5" r="1.45"/><circle cx="13.1" cy="2.5" r="1.45"/></svg>
<div class="t" style="left:560.40px;top:587.15px;height:16px;line-height:16px;font-size:12.5px;color:#444;">8:00</div>
<div class="b" style="left:385.00px;top:637.40px;width:862.50px;height:1.00px;background:#f7f7fb;"></div>
<svg class="i" style="left:391.2px;top:618.85px" width="10.4" height="10.4" viewBox="0 0 10 10" fill="none" stroke="#808084" stroke-width="1" stroke-linejoin="round"><path d="M5 0.9L6.25 3.55L9.1 3.9L7 5.85L7.55 8.7L5 7.3L2.45 8.7L3 5.85L0.9 3.9L3.75 3.55Z"/></svg>
<div class="t" style="left:405.30px;top:616.65px;height:16px;line-height:16px;font-size:11.75px;color:#3f76e2;-webkit-text-stroke:0.3px #3f76e2;">Livia Golden</div>
<svg class="i" style="left:483.3px;top:618.35px" width="12" height="12" viewBox="0 0 12 12" fill="none" stroke="#74747a" stroke-width="1" stroke-linejoin="round"><path d="M1 1.3H11V8.6H4.8L2.5 10.8V8.6H1Z"/></svg>
<svg class="i" style="left:501px;top:621.75px" width="16" height="5" viewBox="0 0 16 5" fill="#444"><circle cx="2.5" cy="2.5" r="1.45"/><circle cx="7.8" cy="2.5" r="1.45"/><circle cx="13.1" cy="2.5" r="1.45"/></svg>
<div class="t" style="left:560.40px;top:616.45px;height:16px;line-height:16px;font-size:12.5px;color:#444;">8:00</div>
<div class="b" style="left:385.00px;top:666.70px;width:862.50px;height:1.00px;background:#f7f7fb;"></div>
<svg class="i" style="left:391.2px;top:648.15px" width="10.4" height="10.4" viewBox="0 0 10 10" fill="none" stroke="#808084" stroke-width="1" stroke-linejoin="round"><path d="M5 0.9L6.25 3.55L9.1 3.9L7 5.85L7.55 8.7L5 7.3L2.45 8.7L3 5.85L0.9 3.9L3.75 3.55Z"/></svg>
<div class="t" style="left:405.30px;top:645.95px;height:16px;line-height:16px;font-size:11.75px;color:#3f76e2;-webkit-text-stroke:0.3px #3f76e2;">Hari Horn</div>
<svg class="i" style="left:483.3px;top:647.65px" width="12" height="12" viewBox="0 0 12 12" fill="none" stroke="#74747a" stroke-width="1" stroke-linejoin="round"><path d="M1 1.3H11V8.6H4.8L2.5 10.8V8.6H1Z"/></svg>
<svg class="i" style="left:501px;top:651.05px" width="16" height="5" viewBox="0 0 16 5" fill="#444"><circle cx="2.5" cy="2.5" r="1.45"/><circle cx="7.8" cy="2.5" r="1.45"/><circle cx="13.1" cy="2.5" r="1.45"/></svg>
<div class="t" style="left:560.40px;top:645.75px;height:16px;line-height:16px;font-size:12.5px;color:#444;">8:00</div>
<div class="b" style="left:385.00px;top:696.00px;width:862.50px;height:1.00px;background:#f7f7fb;"></div>
<svg class="i" style="left:391.2px;top:677.45px" width="10.4" height="10.4" viewBox="0 0 10 10" fill="none" stroke="#808084" stroke-width="1" stroke-linejoin="round"><path d="M5 0.9L6.25 3.55L9.1 3.9L7 5.85L7.55 8.7L5 7.3L2.45 8.7L3 5.85L0.9 3.9L3.75 3.55Z"/></svg>
<div class="t" style="left:405.30px;top:675.25px;height:16px;line-height:16px;font-size:11.75px;color:#3f76e2;-webkit-text-stroke:0.3px #3f76e2;">Ali Smith</div>
<svg class="i" style="left:483.3px;top:676.95px" width="12" height="12" viewBox="0 0 12 12" fill="none" stroke="#74747a" stroke-width="1" stroke-linejoin="round"><path d="M1 1.3H11V8.6H4.8L2.5 10.8V8.6H1Z"/></svg>
<svg class="i" style="left:501px;top:680.35px" width="16" height="5" viewBox="0 0 16 5" fill="#444"><circle cx="2.5" cy="2.5" r="1.45"/><circle cx="7.8" cy="2.5" r="1.45"/><circle cx="13.1" cy="2.5" r="1.45"/></svg>
<div class="t" style="left:560.40px;top:675.05px;height:16px;line-height:16px;font-size:12.5px;color:#444;">8:00</div>
<div class="b" style="left:385.00px;top:725.30px;width:862.50px;height:1.00px;background:#f7f7fb;"></div>
<svg class="i" style="left:391.2px;top:706.75px" width="10.4" height="10.4" viewBox="0 0 10 10" fill="none" stroke="#808084" stroke-width="1" stroke-linejoin="round"><path d="M5 0.9L6.25 3.55L9.1 3.9L7 5.85L7.55 8.7L5 7.3L2.45 8.7L3 5.85L0.9 3.9L3.75 3.55Z"/></svg>
<div class="t" style="left:405.30px;top:704.55px;height:16px;line-height:16px;font-size:11.75px;color:#3f76e2;-webkit-text-stroke:0.3px #3f76e2;">Lia Hayes</div>
<svg class="i" style="left:483.3px;top:706.25px" width="12" height="12" viewBox="0 0 12 12" fill="none" stroke="#74747a" stroke-width="1" stroke-linejoin="round"><path d="M1 1.3H11V8.6H4.8L2.5 10.8V8.6H1Z"/></svg>
<svg class="i" style="left:501px;top:709.65px" width="16" height="5" viewBox="0 0 16 5" fill="#444"><circle cx="2.5" cy="2.5" r="1.45"/><circle cx="7.8" cy="2.5" r="1.45"/><circle cx="13.1" cy="2.5" r="1.45"/></svg>
<div class="t" style="left:560.40px;top:704.35px;height:16px;line-height:16px;font-size:12.5px;color:#444;">8:00</div>
<div class="b" style="left:385.00px;top:754.60px;width:862.50px;height:1.00px;background:#f7f7fb;"></div>
<svg class="i" style="left:391.2px;top:736.05px" width="10.4" height="10.4" viewBox="0 0 10 10" fill="none" stroke="#808084" stroke-width="1" stroke-linejoin="round"><path d="M5 0.9L6.25 3.55L9.1 3.9L7 5.85L7.55 8.7L5 7.3L2.45 8.7L3 5.85L0.9 3.9L3.75 3.55Z"/></svg>
<div class="t" style="left:405.30px;top:733.85px;height:16px;line-height:16px;font-size:11.75px;color:#3f76e2;-webkit-text-stroke:0.3px #3f76e2;">Kajus Weeks</div>
<svg class="i" style="left:483.3px;top:735.55px" width="12" height="12" viewBox="0 0 12 12" fill="none" stroke="#74747a" stroke-width="1" stroke-linejoin="round"><path d="M1 1.3H11V8.6H4.8L2.5 10.8V8.6H1Z"/></svg>
<svg class="i" style="left:501px;top:738.95px" width="16" height="5" viewBox="0 0 16 5" fill="#444"><circle cx="2.5" cy="2.5" r="1.45"/><circle cx="7.8" cy="2.5" r="1.45"/><circle cx="13.1" cy="2.5" r="1.45"/></svg>
<div class="t" style="left:560.40px;top:733.65px;height:16px;line-height:16px;font-size:12.5px;color:#444;">8:00</div>
<div class="b" style="left:385.00px;top:783.90px;width:862.50px;height:1.00px;background:#f7f7fb;"></div>
<svg class="i" style="left:391.2px;top:765.35px" width="10.4" height="10.4" viewBox="0 0 10 10" fill="none" stroke="#808084" stroke-width="1" stroke-linejoin="round"><path d="M5 0.9L6.25 3.55L9.1 3.9L7 5.85L7.55 8.7L5 7.3L2.45 8.7L3 5.85L0.9 3.9L3.75 3.55Z"/></svg>
<div class="t" style="left:405.30px;top:763.15px;height:16px;line-height:16px;font-size:11.75px;color:#3f76e2;-webkit-text-stroke:0.3px #3f76e2;">Betsy Black</div>
<svg class="i" style="left:483.3px;top:764.85px" width="12" height="12" viewBox="0 0 12 12" fill="none" stroke="#74747a" stroke-width="1" stroke-linejoin="round"><path d="M1 1.3H11V8.6H4.8L2.5 10.8V8.6H1Z"/></svg>
<svg class="i" style="left:501px;top:768.25px" width="16" height="5" viewBox="0 0 16 5" fill="#444"><circle cx="2.5" cy="2.5" r="1.45"/><circle cx="7.8" cy="2.5" r="1.45"/><circle cx="13.1" cy="2.5" r="1.45"/></svg>
<div class="t" style="left:560.40px;top:762.95px;height:16px;line-height:16px;font-size:12.5px;color:#444;">8:00</div>
<div class="b" style="left:385.00px;top:813.20px;width:862.50px;height:1.00px;background:#f7f7fb;"></div>
<svg class="i" style="left:391.2px;top:794.65px" width="10.4" height="10.4" viewBox="0 0 10 10" fill="none" stroke="#808084" stroke-width="1" stroke-linejoin="round"><path d="M5 0.9L6.25 3.55L9.1 3.9L7 5.85L7.55 8.7L5 7.3L2.45 8.7L3 5.85L0.9 3.9L3.75 3.55Z"/></svg>
<div class="t" style="left:405.30px;top:792.45px;height:16px;line-height:16px;font-size:11.75px;color:#3f76e2;-webkit-text-stroke:0.3px #3f76e2;">Kyan Warner</div>
<svg class="i" style="left:483.3px;top:794.15px" width="12" height="12" viewBox="0 0 12 12" fill="none" stroke="#74747a" stroke-width="1" stroke-linejoin="round"><path d="M1 1.3H11V8.6H4.8L2.5 10.8V8.6H1Z"/></svg>
<svg class="i" style="left:501px;top:797.55px" width="16" height="5" viewBox="0 0 16 5" fill="#444"><circle cx="2.5" cy="2.5" r="1.45"/><circle cx="7.8" cy="2.5" r="1.45"/><circle cx="13.1" cy="2.5" r="1.45"/></svg>
<div class="t" style="left:560.40px;top:792.25px;height:16px;line-height:16px;font-size:12.5px;color:#444;">8:00</div>
<div class="b" style="left:385.00px;top:841.50px;width:862.50px;height:1.00px;background:#f7f7fb;"></div>
<svg class="i" style="left:391.2px;top:823.95px" width="10.4" height="10.4" viewBox="0 0 10 10" fill="none" stroke="#808084" stroke-width="1" stroke-linejoin="round"><path d="M5 0.9L6.25 3.55L9.1 3.9L7 5.85L7.55 8.7L5 7.3L2.45 8.7L3 5.85L0.9 3.9L3.75 3.55Z"/></svg>
<div class="t" style="left:405.30px;top:821.75px;height:16px;line-height:16px;font-size:11.75px;color:#3f76e2;-webkit-text-stroke:0.3px #3f76e2;">Tiana Kline</div>
<svg class="i" style="left:483.3px;top:823.45px" width="12" height="12" viewBox="0 0 12 12" fill="none" stroke="#74747a" stroke-width="1" stroke-linejoin="round"><path d="M1 1.3H11V8.6H4.8L2.5 10.8V8.6H1Z"/></svg>
<svg class="i" style="left:501px;top:826.85px" width="16" height="5" viewBox="0 0 16 5" fill="#444"><circle cx="2.5" cy="2.5" r="1.45"/><circle cx="7.8" cy="2.5" r="1.45"/><circle cx="13.1" cy="2.5" r="1.45"/></svg>
<div class="t" style="left:560.40px;top:821.55px;height:16px;line-height:16px;font-size:12.5px;color:#444;">8:00</div>
<svg class="i" style="left:0;top:0" width="1280" height="960" viewBox="0 0 1280 960"><rect x="599.40" y="354.00" width="647.60" height="0.80" fill="#f5f4fb"/><rect x="599.40" y="375.20" width="647.60" height="0.90" fill="#efeff7"/><rect x="599.00" y="354.00" width="0.80" height="21.60" fill="#eef1fa"/><rect x="611.21" y="354.00" width="0.80" height="21.60" fill="#f5f4fb"/><rect x="623.42" y="354.00" width="0.80" height="21.60" fill="#f5f4fb"/><rect x="635.64" y="354.00" width="0.80" height="21.60" fill="#f5f4fb"/><rect x="647.85" y="354.00" width="0.80" height="21.60" fill="#eef1fa"/><rect x="660.06" y="354.00" width="0.80" height="21.60" fill="#f5f4fb"/><rect x="672.27" y="354.00" width="0.80" height="21.60" fill="#f5f4fb"/><rect x="684.49" y="354.00" width="0.80" height="21.60" fill="#f5f4fb"/><rect x="696.70" y="354.00" width="0.80" height="21.60" fill="#eef1fa"/><rect x="708.91" y="354.00" width="0.80" height="21.60" fill="#f5f4fb"/><rect x="721.12" y="354.00" width="0.80" height="21.60" fill="#f5f4fb"/><rect x="733.34" y="354.00" width="0.80" height="21.60" fill="#f5f4fb"/><rect x="745.55" y="354.00" width="0.80" height="21.60" fill="#eef1fa"/><rect x="757.76" y="354.00" width="0.80" height="21.60" fill="#f5f4fb"/><rect x="769.98" y="354.00" width="0.80" height="21.60" fill="#f5f4fb"/><rect x="782.19" y="354.00" width="0.80" height="21.60" fill="#f5f4fb"/><rect x="794.40" y="354.00" width="0.80" height="21.60" fill="#eef1fa"/><rect x="806.61" y="354.00" width="0.80" height="21.60" fill="#f5f4fb"/><rect x="818.83" y="354.00" width="0.80" height="21.60" fill="#f5f4fb"/><rect x="831.04" y="354.00" width="0.80" height="21.60" fill="#f5f4fb"/><rect x="843.25" y="354.00" width="0.80" height="21.60" fill="#eef1fa"/><rect x="855.46" y="354.00" width="0.80" height="21.60" fill="#f5f4fb"/><rect x="867.68" y="354.00" width="0.80" height="21.60" fill="#f5f4fb"/><rect x="879.89" y="354.00" width="0.80" height="21.60" fill="#f5f4fb"/><rect x="892.10" y="354.00" width="0.80" height="21.60" fill="#eef1fa"/><rect x="904.31" y="354.00" width="0.80" height="21.60" fill="#f5f4fb"/><rect x="916.52" y="354.00" width="0.80" height="21.60" fill="#f5f4fb"/><rect x="928.74" y="354.00" width="0.80" height="21.60" fill="#f5f4fb"/><rect x="940.95" y="354.00" width="0.80" height="21.60" fill="#eef1fa"/><rect x="953.16" y="354.00" width="0.80" height="21.60" fill="#f5f4fb"/><rect x="965.38" y="354.00" width="0.80" height="21.60" fill="#f5f4fb"/><rect x="977.59" y="354.00" width="0.80" height="21.60" fill="#f5f4fb"/><rect x="989.80" y="354.00" width="0.80" height="21.60" fill="#eef1fa"/><rect x="1002.01" y="354.00" width="0.80" height="21.60" fill="#f5f4fb"/><rect x="1014.23" y="354.00" width="0.80" height="21.60" fill="#f5f4fb"/><rect x="1026.44" y="354.00" width="0.80" height="21.60" fill="#f5f4fb"/><rect x="1038.65" y="354.00" width="0.80" height="21.60" fill="#eef1fa"/><rect x="1050.86" y="354.00" width="0.80" height="21.60" fill="#f5f4fb"/><rect x="1063.07" y="354.00" width="0.80" height="21.60" fill="#f5f4fb"/><rect x="1075.29" y="354.00" width="0.80" height="21.60" fill="#f5f4fb"/><rect x="1087.50" y="354.00" width="0.80" height="21.60" fill="#eef1fa"/><rect x="1099.71" y="354.00" width="0.80" height="21.60" fill="#f5f4fb"/><rect x="1111.92" y="354.00" width="0.80" height="21.60" fill="#f5f4fb"/><rect x="1124.14" y="354.00" width="0.80" height="21.60" fill="#f5f4fb"/><rect x="1136.35" y="354.00" width="0.80" height="21.60" fill="#eef1fa"/><rect x="1148.56" y="354.00" width="0.80" height="21.60" fill="#f5f4fb"/><rect x="1160.77" y="354.00" width="0.80" height="21.60" fill="#f5f4fb"/><rect x="1172.99" y="354.00" width="0.80" height="21.60" fill="#f5f4fb"/><rect x="1185.20" y="354.00" width="0.80" height="21.60" fill="#eef1fa"/><rect x="1197.41" y="354.00" width="0.80" height="21.60" fill="#f5f4fb"/><rect x="1209.62" y="354.00" width="0.80" height="21.60" fill="#f5f4fb"/><rect x="1221.84" y="354.00" width="0.80" height="21.60" fill="#f5f4fb"/><rect x="1234.05" y="354.00" width="0.80" height="21.60" fill="#eef1fa"/><rect x="1246.26" y="354.00" width="0.80" height="21.60" fill="#f5f4fb"/><rect x="599.70" y="366.10" width="11.61" height="3.00" fill="#e68b96"/><rect x="611.91" y="366.10" width="11.61" height="5.00" fill="#e68b96"/><rect x="624.12" y="361.20" width="11.61" height="3.50" fill="#b3dcb8"/><rect x="636.34" y="361.20" width="11.61" height="3.50" fill="#b3dcb8"/><rect x="685.19" y="361.20" width="11.61" height="3.50" fill="#b3dcb8"/><rect x="697.40" y="358.70" width="11.61" height="6.00" fill="#b3dcb8"/><rect x="709.61" y="361.20" width="11.61" height="3.50" fill="#b3dcb8"/><rect x="721.82" y="355.20" width="11.61" height="9.50" fill="#b3dcb8"/><rect x="734.04" y="366.10" width="11.61" height="3.00" fill="#e68b96"/><rect x="746.25" y="366.10" width="11.61" height="5.00" fill="#e68b96"/><rect x="758.46" y="366.10" width="11.61" height="5.00" fill="#e68b96"/><rect x="770.67" y="366.10" width="11.61" height="3.00" fill="#e68b96"/><rect x="782.89" y="366.10" width="11.61" height="3.00" fill="#e68b96"/><rect x="795.10" y="366.10" width="11.61" height="9.00" fill="#e68b96"/><rect x="807.31" y="366.10" width="11.61" height="6.00" fill="#e68b96"/><rect x="819.52" y="366.10" width="11.61" height="3.00" fill="#e68b96"/><rect x="831.74" y="366.10" width="11.61" height="3.00" fill="#e68b96"/><rect x="843.95" y="355.20" width="11.61" height="9.50" fill="#b3dcb8"/><rect x="856.16" y="355.20" width="11.61" height="9.50" fill="#b3dcb8"/><rect x="868.38" y="360.70" width="11.61" height="4.00" fill="#b3dcb8"/><rect x="880.59" y="360.70" width="11.61" height="4.00" fill="#b3dcb8"/><rect x="892.80" y="360.70" width="11.61" height="4.00" fill="#b3dcb8"/><rect x="905.01" y="360.70" width="11.61" height="4.00" fill="#b3dcb8"/><rect x="917.22" y="366.10" width="11.61" height="5.00" fill="#e68b96"/><rect x="929.44" y="366.10" width="11.61" height="9.00" fill="#e68b96"/><rect x="941.65" y="366.10" width="11.61" height="9.00" fill="#e68b96"/><rect x="953.86" y="366.10" width="11.61" height="3.00" fill="#e68b96"/><rect x="1002.71" y="361.20" width="11.61" height="3.50" fill="#b3dcb8"/><rect x="1014.92" y="361.20" width="11.61" height="3.50" fill="#b3dcb8"/><rect x="1027.14" y="361.20" width="11.61" height="3.50" fill="#b3dcb8"/><rect x="1039.35" y="366.10" width="11.61" height="3.00" fill="#e68b96"/><rect x="1051.56" y="366.10" width="11.61" height="3.00" fill="#e68b96"/><rect x="1063.77" y="366.10" width="11.61" height="5.00" fill="#e68b96"/><rect x="1075.99" y="366.10" width="11.61" height="5.00" fill="#e68b96"/><rect x="1088.20" y="366.10" width="11.61" height="9.00" fill="#e68b96"/><rect x="1100.41" y="366.10" width="11.61" height="9.00" fill="#e68b96"/><rect x="1137.05" y="355.20" width="11.61" height="9.50" fill="#b3dcb8"/><rect x="1149.26" y="355.20" width="11.61" height="9.50" fill="#b3dcb8"/><rect x="1161.47" y="357.70" width="11.61" height="7.00" fill="#b3dcb8"/><rect x="1198.11" y="361.20" width="11.61" height="3.50" fill="#b3dcb8"/><rect x="1222.54" y="355.20" width="11.61" height="9.50" fill="#b3dcb8"/><rect x="647.65" y="407.70" width="390.80" height="19.30" fill="#e8f0fc" rx="3"/><rect x="720.92" y="407.70" width="12.21" height="19.30" fill="#edd79c"/><rect x="818.62" y="407.70" width="24.42" height="19.30" fill="#e9aa8e"/><rect x="940.75" y="407.70" width="12.21" height="19.30" fill="#edd79c"/><rect x="672.07" y="437.30" width="390.80" height="19.30" fill="#e8f0fc" rx="3"/><rect x="745.35" y="437.30" width="12.21" height="19.30" fill="#edd79c"/><rect x="843.05" y="437.30" width="24.43" height="19.30" fill="#e9aa8e"/><rect x="915.62" y="437.30" width="24.42" height="19.30" fill="#9892d2"/><rect x="965.17" y="437.30" width="12.21" height="19.30" fill="#edd79c"/><rect x="696.50" y="467.55" width="390.80" height="19.30" fill="#e8f0fc" rx="3"/><rect x="769.77" y="467.55" width="12.21" height="19.30" fill="#edd79c"/><rect x="867.48" y="467.55" width="24.42" height="19.30" fill="#e9aa8e"/><rect x="915.62" y="467.55" width="24.42" height="19.30" fill="#9892d2"/><rect x="989.60" y="467.55" width="12.21" height="19.30" fill="#edd79c"/><rect x="647.65" y="496.85" width="390.80" height="19.30" fill="#e8f0fc" rx="3"/><rect x="720.92" y="496.85" width="12.21" height="19.30" fill="#edd79c"/><rect x="818.62" y="496.85" width="24.42" height="19.30" fill="#e9aa8e"/><rect x="915.62" y="496.85" width="24.42" height="19.30" fill="#9892d2"/><rect x="940.75" y="496.85" width="12.21" height="19.30" fill="#edd79c"/><rect x="647.65" y="525.90" width="390.80" height="19.30" fill="#e8f0fc" rx="3"/><rect x="733.14" y="525.90" width="12.21" height="19.30" fill="#edd79c"/><rect x="830.84" y="525.90" width="24.42" height="19.30" fill="#e9aa8e"/><rect x="915.62" y="525.90" width="24.42" height="19.30" fill="#9892d2"/><rect x="965.17" y="525.90" width="12.21" height="19.30" fill="#edd79c"/><rect x="623.22" y="555.25" width="390.80" height="19.30" fill="#e8f0fc" rx="3"/><rect x="708.71" y="555.25" width="12.21" height="19.30" fill="#edd79c"/><rect x="745.35" y="555.25" width="24.42" height="19.30" fill="#9892d2"/><rect x="806.41" y="555.25" width="24.42" height="19.30" fill="#e9aa8e"/><rect x="940.75" y="555.25" width="12.21" height="19.30" fill="#edd79c"/><rect x="623.22" y="584.75" width="415.23" height="19.30" fill="#e8f0fc" rx="3"/><rect x="708.71" y="584.75" width="12.21" height="19.30" fill="#edd79c"/><rect x="745.35" y="584.75" width="24.42" height="19.30" fill="#9892d2"/><rect x="806.41" y="584.75" width="24.42" height="19.30" fill="#e9aa8e"/><rect x="891.90" y="584.75" width="73.27" height="19.30" fill="#94a3bc"/><rect x="696.50" y="613.75" width="390.80" height="19.30" fill="#e8f0fc" rx="3"/><rect x="745.35" y="613.75" width="24.42" height="19.30" fill="#9892d2"/><rect x="781.99" y="613.75" width="12.21" height="19.30" fill="#edd79c"/><rect x="867.48" y="613.75" width="24.42" height="19.30" fill="#e9aa8e"/><rect x="977.39" y="613.75" width="12.21" height="19.30" fill="#edd79c"/><rect x="696.50" y="643.70" width="390.80" height="19.30" fill="#e8f0fc" rx="3"/><rect x="745.35" y="643.70" width="24.42" height="19.30" fill="#9892d2"/><rect x="794.20" y="643.70" width="12.21" height="19.30" fill="#edd79c"/><rect x="891.90" y="643.70" width="24.42" height="19.30" fill="#e9aa8e"/><rect x="989.60" y="643.70" width="12.21" height="19.30" fill="#edd79c"/><rect x="696.50" y="672.45" width="390.80" height="19.30" fill="#e8f0fc" rx="3"/><rect x="769.77" y="672.45" width="12.21" height="19.30" fill="#edd79c"/><rect x="867.48" y="672.45" width="24.42" height="19.30" fill="#e9aa8e"/><rect x="915.62" y="672.45" width="24.42" height="19.30" fill="#9892d2"/><rect x="989.60" y="672.45" width="12.21" height="19.30" fill="#edd79c"/><rect x="647.65" y="701.60" width="390.80" height="19.30" fill="#e8f0fc" rx="3"/><rect x="733.14" y="701.60" width="12.21" height="19.30" fill="#edd79c"/><rect x="745.35" y="701.60" width="24.42" height="19.30" fill="#9892d2"/><rect x="818.62" y="701.60" width="24.42" height="19.30" fill="#e9aa8e"/><rect x="928.54" y="701.60" width="12.21" height="19.30" fill="#edd79c"/><rect x="647.65" y="730.75" width="390.80" height="19.30" fill="#e8f0fc" rx="3"/><rect x="733.14" y="730.75" width="12.21" height="19.30" fill="#edd79c"/><rect x="830.84" y="730.75" width="24.42" height="19.30" fill="#e9aa8e"/><rect x="915.62" y="730.75" width="24.42" height="19.30" fill="#9892d2"/><rect x="965.17" y="730.75" width="12.21" height="19.30" fill="#edd79c"/><rect x="623.22" y="760.00" width="390.80" height="19.30" fill="#e8f0fc" rx="3"/><rect x="696.50" y="760.00" width="12.21" height="19.30" fill="#edd79c"/><rect x="745.35" y="760.00" width="24.42" height="19.30" fill="#9892d2"/><rect x="794.20" y="760.00" width="24.43" height="19.30" fill="#e9aa8e"/><rect x="902.51" y="760.00" width="12.21" height="19.30" fill="#edd79c"/><rect x="719.62" y="790.90" width="390.80" height="19.30" fill="#e8f0fc" rx="3"/><rect x="805.11" y="790.90" width="12.21" height="19.30" fill="#edd79c"/><rect x="866.18" y="790.90" width="24.42" height="19.30" fill="#e9aa8e"/><rect x="914.32" y="790.90" width="24.42" height="19.30" fill="#9892d2"/><rect x="1037.15" y="790.90" width="12.21" height="19.30" fill="#edd79c"/><rect x="599.30" y="818.70" width="634.10" height="19.30" fill="#94a3bc"/><rect x="521.90" y="376.00" width="0.90" height="466.00" fill="#eef3fc"/><rect x="599.00" y="334.50" width="0.90" height="507.50" fill="#f0f4fc"/><rect x="647.80" y="376.00" width="0.90" height="466.80" fill="#eff4fd" style="mix-blend-mode:multiply"/><rect x="696.65" y="376.00" width="0.90" height="466.80" fill="#eff4fd" style="mix-blend-mode:multiply"/><rect x="745.50" y="376.00" width="0.90" height="466.80" fill="#eff4fd" style="mix-blend-mode:multiply"/><rect x="794.35" y="376.00" width="0.90" height="466.80" fill="#eff4fd" style="mix-blend-mode:multiply"/><rect x="843.20" y="376.00" width="0.90" height="466.80" fill="#eff4fd" style="mix-blend-mode:multiply"/><rect x="892.05" y="376.00" width="0.90" height="466.80" fill="#eff4fd" style="mix-blend-mode:multiply"/><rect x="940.90" y="376.00" width="0.90" height="466.80" fill="#eff4fd" style="mix-blend-mode:multiply"/><rect x="989.75" y="376.00" width="0.90" height="466.80" fill="#eff4fd" style="mix-blend-mode:multiply"/><rect x="1038.60" y="376.00" width="0.90" height="466.80" fill="#eff4fd" style="mix-blend-mode:multiply"/><rect x="1087.45" y="376.00" width="0.90" height="466.80" fill="#eff4fd" style="mix-blend-mode:multiply"/><rect x="1136.30" y="376.00" width="0.90" height="466.80" fill="#eff4fd" style="mix-blend-mode:multiply"/><rect x="1185.15" y="376.00" width="0.90" height="466.80" fill="#eff4fd" style="mix-blend-mode:multiply"/><rect x="1234.00" y="376.00" width="0.90" height="466.80" fill="#eff4fd" style="mix-blend-mode:multiply"/><rect x="738.10" y="376.00" width="0.90" height="467.10" fill="#ec949f" style="mix-blend-mode:multiply"/><rect x="737.20" y="375.60" width="2.70" height="1.80" fill="#e0566a" rx="0.8"/></svg>
<div class="b" style="left:609.80px;top:833.30px;width:623.60px;height:4.90px;background:#fdfdfe;border-radius:2.4px 0 0 2.4px;"></div>
<div class="b" style="left:652.00px;top:835.40px;width:581.40px;height:0.90px;background:#f1edf6;"></div>
<div class="b" style="left:612.30px;top:834.70px;width:39.60px;height:2.60px;background:#b9bcc8;border-radius:1.3px;"></div>
<div class="b" style="left:1240.20px;top:404.00px;width:3.20px;height:438.50px;background:#f8f8fb;"></div>
<div class="b" style="left:1240.20px;top:408.50px;width:3.20px;height:40.30px;background:#b4b7c4;border-radius:1.6px;"></div>
<div class="t" style="left:401.70px;top:848.50px;height:16px;line-height:16px;font-size:10.1px;color:#666;">Total Agents: 49</div>
</body></html>
